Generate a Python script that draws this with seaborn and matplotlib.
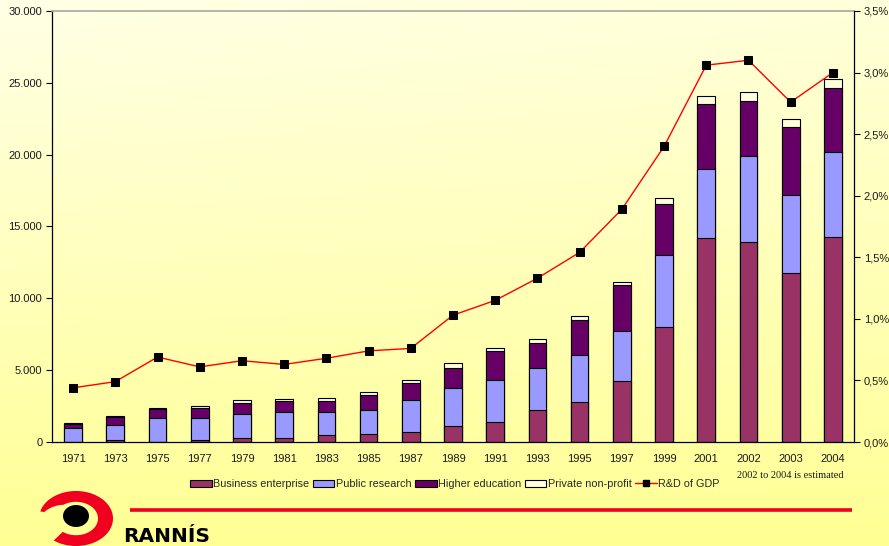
import numpy as np
import pandas as pd
import matplotlib
matplotlib.use("Agg")
import matplotlib.pyplot as plt
import seaborn as sns
from matplotlib.patches import Patch, Ellipse, Polygon
from matplotlib.lines import Line2D
from matplotlib.ticker import FuncFormatter

# ---------------- data ----------------
years = ["1971", "1973", "1975", "1977", "1979", "1981", "1983", "1985", "1987", "1989",
         "1991", "1993", "1995", "1997", "1999", "2001", "2002", "2003", "2004"]
business = [30, 118, 30, 160, 278, 306, 510, 536, 675, 1090,
            1415, 2250, 2784, 4266, 7975, 14196, 13939, 11761, 14266]
public = [967, 1088, 1664, 1534, 1694, 1805, 1554, 1670, 2271, 2691,
          2923, 2878, 3294, 3431, 5059, 4802, 5936, 5449, 5936]
higher = [256, 511, 603, 672, 765, 765, 812, 1044, 1139, 1392,
          1972, 1739, 2390, 3249, 3549, 4523, 3876, 4711, 4433]
private = [40, 70, 90, 140, 163, 140, 210, 230, 230, 349,
           255, 303, 324, 188, 397, 529, 605, 577, 626]
gdp_share = [0.44, 0.49, 0.69, 0.61, 0.66, 0.63, 0.68, 0.74, 0.76, 1.03,
             1.15, 1.33, 1.54, 1.89, 2.40, 3.06, 3.10, 2.76, 3.00]

series_names = ["Business enterprise", "Public research", "Higher education",
                "Private non-profit", "R&D of GDP"]
colors = ["#993366", "#9999FF", "#660066", "#FFFFDD"]

sns.set_theme(style="white")
plt.rcParams["font.family"] = ["Liberation Sans", "DejaVu Sans"]

W, H = 889, 546
fig = plt.figure(figsize=(W / 100, H / 100), dpi=100)

# background gradient
bg = fig.add_axes([0, 0, 1, 1], zorder=0)
yy, xx = np.mgrid[0:1:200j, 0:1:200j]
blue = 230 - 82 * yy - 12 * xx * (1 - yy)
img = np.dstack([np.ones_like(yy), np.ones_like(yy), blue / 255.0])
bg.imshow(img, aspect="auto", extent=[0, 1, 0, 1], origin="upper")
bg.set_axis_off()

# main axes
ax = fig.add_axes([52 / W, 104 / H, 802 / W, 431 / H], zorder=1)
ax.patch.set_alpha(0)

df = pd.DataFrame({"year": years, "business": business, "public": public,
                   "higher": higher, "private": private})
df["c1"] = df["business"]
df["c2"] = df["c1"] + df["public"]
df["c3"] = df["c2"] + df["higher"]
df["c4"] = df["c3"] + df["private"]

for col, color in [("c4", colors[3]), ("c3", colors[2]), ("c2", colors[1]), ("c1", colors[0])]:
    sns.barplot(data=df, x="year", y=col, order=years, color=color, saturation=1,
                width=0.42, edgecolor="black", linewidth=0.8, ax=ax)

n = len(years)
ax.set_xlim(-0.5, n - 0.5)
ax.set_ylim(0, 30000)
ax.set_xlabel("")
ax.set_ylabel("")
ax.set_xticks(range(n))
ax.set_xticklabels(years)
ax.set_xticks(np.arange(-0.5, n, 1.0), minor=True)
ax.tick_params(axis="x", which="major", length=0, pad=9, labelsize=8, labelcolor="#1a1a1a")
ax.tick_params(axis="x", which="minor", length=4, width=0.8, direction="out", color="black")
ax.set_yticks(np.arange(0, 30001, 5000))
ax.yaxis.set_major_formatter(FuncFormatter(lambda v, p: f"{int(v):,}".replace(",", ".")))
ax.tick_params(axis="y", length=4, width=0.8, direction="out", color="black", pad=3,
               labelsize=8, labelcolor="#1a1a1a", left=True)
for s in ["left", "bottom"]:
    ax.spines[s].set_color("black")
    ax.spines[s].set_linewidth(0.9)
ax.spines["top"].set_color("#a8a89a")
ax.spines["top"].set_linewidth(1.2)
ax.spines["right"].set_visible(False)
ax.grid(False)

# secondary axis: R&D share of GDP
ax2 = ax.twinx()
ax2.set_zorder(2)
ax2.patch.set_visible(False)
sns.lineplot(x=np.arange(n), y=gdp_share, ax=ax2, color="#FF0000", linewidth=1,
             marker="s", markersize=5.5, markerfacecolor="black", markeredgecolor="black")
ax2.set_xlim(-0.5, n - 0.5)
ax2.set_ylim(0, 3.5)
ax2.set_yticks(np.arange(0, 3.51, 0.5))
ax2.yaxis.set_major_formatter(FuncFormatter(lambda v, p: f"{v:.1f}%".replace(".", ",")))
ax2.tick_params(axis="y", length=4, width=0.8, direction="out", color="black", pad=3,
                labelsize=8, labelcolor="#1a1a1a", right=True)
ax2.set_ylabel("")
ax2.grid(False)
for s in ["left", "bottom", "top"]:
    ax2.spines[s].set_visible(False)
ax2.spines["right"].set_color("black")
ax2.spines["right"].set_linewidth(0.9)

# legend
handles = [Patch(facecolor=c, edgecolor="black", linewidth=0.8) for c in colors]
handles.append(Line2D([], [], color="#FF0000", lw=1, marker="s", markersize=5,
                      markerfacecolor="black", markeredgecolor="black"))
fig.legend(handles, series_names, loc="center", bbox_to_anchor=(455 / W, (H - 484) / H),
           ncol=5, frameon=False, fontsize=7.8, handlelength=2.0, handleheight=0.65,
           handletextpad=0.15, columnspacing=0.3, borderpad=0)

fig.text(737 / W, (H - 475) / H, "2002 to 2004 is estimated", family="Liberation Serif",
         fontsize=7.5, va="center", ha="left", color="#1a1a1a")

# overlay for decoration (separator line and logo)
ov = fig.add_axes([0, 0, 1, 1], zorder=5)
ov.set_xlim(0, W)
ov.set_ylim(H, 0)
ov.set_axis_off()
ov.patch.set_alpha(0)
ov.plot([130, 852], [510, 510], color="#EE0022", lw=2.6, solid_capstyle="butt")

cx, cy = 76, 518.5
th = np.radians(np.linspace(-127, 165, 300))
thick = np.where(np.degrees(th) > 125, 15 - 11 * (np.degrees(th) - 125) / 40, 15.0)
rxo, ryo = 37.0, 27.5
ox = cx + rxo * np.cos(th)
oy = cy - ryo * np.sin(th)
ix = cx + (rxo - thick) * np.cos(th)
iy = cy - (ryo - thick * 0.72) * np.sin(th)
ring = np.vstack([np.column_stack([ox, oy]), np.column_stack([ix, iy])[::-1]])
ov.add_patch(Polygon(ring, closed=True, facecolor="#F0001E", edgecolor="none"))
ov.add_patch(Ellipse((76, 516), 26, 22, facecolor="black", edgecolor="none"))
ov.text(123, 542, "RANNÍS", family="DejaVu Sans", fontweight="bold", fontsize=14.5,
        color="black", ha="left", va="baseline")

fig.savefig("out.png", dpi=100)
